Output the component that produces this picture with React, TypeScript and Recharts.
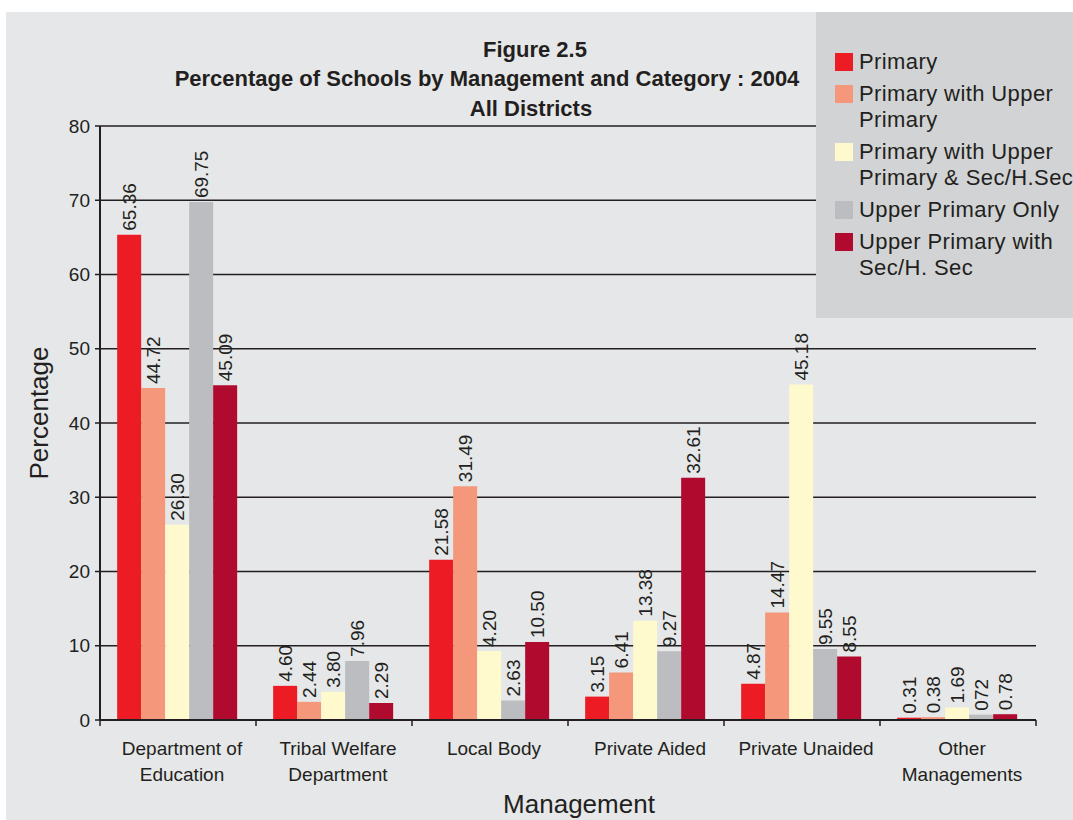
import React from 'react';
import { BarChart, Bar, XAxis, YAxis, CartesianGrid, Legend, LabelList } from 'recharts';

// Figure 2.5 – schools by management and category, 2004
const categories = [
  'Department of\nEducation',
  'Tribal Welfare\nDepartment',
  'Local Body',
  'Private Aided',
  'Private Unaided',
  'Other\nManagements',
];

// bar heights as drawn
const primary = [65.36, 4.6, 21.58, 3.15, 4.87, 0.31];
const primaryUpper = [44.72, 2.44, 31.49, 6.41, 14.47, 0.38];
const primaryUpperSec = [26.3, 3.8, 9.3, 13.38, 45.18, 1.69];
const upperOnly = [69.75, 7.96, 2.63, 9.27, 9.55, 0.72];
const upperSec = [45.09, 2.29, 10.5, 32.61, 8.55, 0.78];

// value labels as printed
const primaryLabels = ['65.36', '4.60', '21.58', '3.15', '4.87', '0.31'];
const primaryUpperLabels = ['44.72', '2.44', '31.49', '6.41', '14.47', '0.38'];
const primaryUpperSecLabels = ['26.30', '3.80', '4.20', '13.38', '45.18', '1.69'];
const upperOnlyLabels = ['69.75', '7.96', '2.63', '9.27', '9.55', '072'];
const upperSecLabels = ['45.09', '2.29', '10.50', '32.61', '8.55', '0.78'];

const yTicks = [0, 10, 20, 30, 40, 50, 60, 70, 80];

const series = [
  { key: 'primary', name: 'Primary', color: '#ed1c24' },
  { key: 'primaryUpper', name: 'Primary with Upper\nPrimary', color: '#f4977a' },
  { key: 'primaryUpperSec', name: 'Primary with Upper\nPrimary & Sec/H.Sec', color: '#fffacd' },
  { key: 'upperOnly', name: 'Upper Primary Only', color: '#bcbdc0' },
  { key: 'upperSec', name: 'Upper Primary with\nSec/H. Sec', color: '#b00b2f' },
];

const data = categories.map((name, i) => ({
  name,
  primary: primary[i],
  primaryUpper: primaryUpper[i],
  primaryUpperSec: primaryUpperSec[i],
  upperOnly: upperOnly[i],
  upperSec: upperSec[i],
  primaryLabel: primaryLabels[i],
  primaryUpperLabel: primaryUpperLabels[i],
  primaryUpperSecLabel: primaryUpperSecLabels[i],
  upperOnlyLabel: upperOnlyLabels[i],
  upperSecLabel: upperSecLabels[i],
}));

const W = 1073;
const H = 820;
const PLOT_LEFT = 100;
const PLOT_RIGHT = 1036;
const PLOT_TOP = 126;
const X_AXIS_H = 100;
const Y_AXIS_W = 60;
const BAND = (PLOT_RIGHT - PLOT_LEFT) / categories.length;

const INK = '#231f20';
const BG = '#e6e7e8';
const LEGEND_BG = '#d1d3d4';
const FONT = '"Liberation Sans", Arial, Helvetica, sans-serif';

const XTick = ({ x, y, payload, index }: any) => {
  const lines = String(payload.value).split('\n');
  const half = BAND / 2;
  return (
    <g>
      <line x1={x - half} y1={y} x2={x - half} y2={y + 6} stroke={INK} strokeWidth={1.5} />
      {index === categories.length - 1 && (
        <line x1={x + half} y1={y} x2={x + half} y2={y + 6} stroke={INK} strokeWidth={1.5} />
      )}
      <text x={x + 4} y={y + 35} textAnchor="middle" fontSize={19} fill={INK} fontFamily={FONT}>
        {lines.map((l, i) => (
          <tspan key={i} x={x + 4} dy={i === 0 ? 0 : 26}>
            {l}
          </tspan>
        ))}
      </text>
    </g>
  );
};

const renderLabel = (props: any) => {
  const vb = props.viewBox || {};
  const x = Number(props.x ?? vb.x);
  const y = Number(props.y ?? vb.y);
  const width = Number(props.width ?? vb.width);
  const cx = x + width / 2;
  const ty = y - 4;
  return (
    <text
      x={cx}
      y={ty}
      transform={`rotate(-90 ${cx} ${ty})`}
      textAnchor="start"
      dominantBaseline="central"
      fontSize={19}
      fill={INK}
      fontFamily={FONT}
    >
      {props.value}
    </text>
  );
};

const LegendBox = () => (
  <div
    style={{
      width: 257,
      height: 306,
      background: LEGEND_BG,
      boxSizing: 'border-box',
      padding: '37px 0 0 19px',
      fontFamily: FONT,
      fontSize: 22,
      letterSpacing: 0.4,
      color: INK,
      textAlign: 'left',
    }}
  >
    {series.map((s) => (
      <div key={s.key} style={{ display: 'flex', alignItems: 'flex-start', marginBottom: 6 }}>
        <div style={{ width: 18, height: 18, background: s.color, marginTop: 3.5, marginRight: 6, flexShrink: 0 }} />
        <div style={{ whiteSpace: 'pre', lineHeight: '26px' }}>{s.name}</div>
      </div>
    ))}
  </div>
);

export default function App() {
  return (
    <div style={{ position: 'absolute', left: 0, top: 0, width: W, height: H, overflow: 'hidden', background: '#fff' }}>
      <svg width={W} height={H} style={{ position: 'absolute', left: 0, top: 0 }}>
        <rect x={6} y={12} width={W - 6} height={H - 12} fill={BG} />
        <g fontFamily={FONT} fontWeight="bold" fontSize={22} fill={INK} textAnchor="middle">
          <text x={535} y={57}>Figure 2.5</text>
          <text x={487} y={86}>Percentage of Schools by Management and Category : 2004</text>
          <text x={531} y={116}>All Districts</text>
        </g>
        <text x={48} y={413} transform="rotate(-90 48 413)" textAnchor="middle" fontSize={26} fill={INK} fontFamily={FONT}>
          Percentage
        </text>
        <text x={579} y={813} textAnchor="middle" fontSize={26} fill={INK} fontFamily={FONT}>
          Management
        </text>
      </svg>
      <div style={{ position: 'absolute', left: 0, top: 0 }}>
        <BarChart
          width={W}
          height={H}
          data={data}
          margin={{ top: PLOT_TOP, right: W - PLOT_RIGHT, bottom: 0, left: PLOT_LEFT - Y_AXIS_W }}
          barCategoryGap="11%"
          barGap={0}
        >
          <CartesianGrid vertical={false} stroke={INK} strokeWidth={1.5} />
          <XAxis
            dataKey="name"
            height={X_AXIS_H}
            interval={0}
            tickLine={false}
            tickSize={0}
            tickMargin={0}
            axisLine={{ stroke: INK, strokeWidth: 2 }}
            tick={<XTick />}
          />
          <YAxis
            width={Y_AXIS_W}
            domain={[0, 80]}
            ticks={yTicks}
            interval={0}
            tickSize={5}
            tickMargin={5}
            axisLine={{ stroke: INK, strokeWidth: 2 }}
            tickLine={{ stroke: INK, strokeWidth: 1.5 }}
            tick={{ fontSize: 19, fill: INK, fontFamily: FONT }}
          />
          <Legend
            layout="vertical"
            align="center"
            verticalAlign="middle"
            content={<LegendBox />}
            wrapperStyle={{ left: 816, top: 12, width: 257, height: 306 }}
          />
          {series.map((s) => (
            <Bar key={s.key} dataKey={s.key} name={s.name} fill={s.color} isAnimationActive={false}>
              <LabelList dataKey={`${s.key}Label`} content={renderLabel} />
            </Bar>
          ))}
        </BarChart>
      </div>
    </div>
  );
}
